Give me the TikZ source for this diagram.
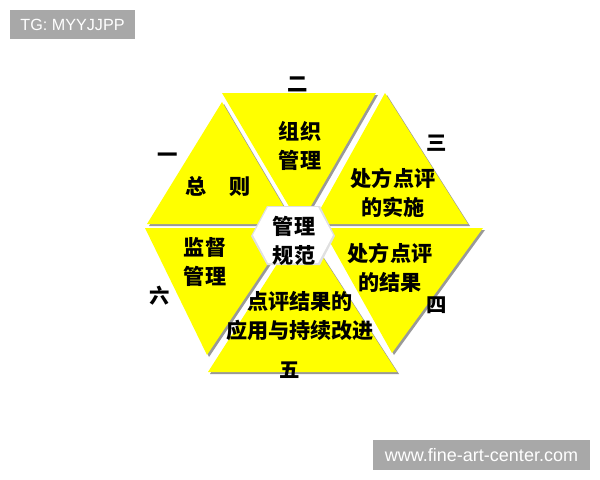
\documentclass[tikz,border=0pt]{standalone}
\usepackage{fontspec}
\usepackage{tikz}
\newfontfamily\cjk{Noto Sans CJK SC}
\newfontfamily\wmfont{Liberation Sans}
\definecolor{hexyellow}{HTML}{FFFF00}
\definecolor{wmgray}{HTML}{A8A8A8}

\begin{document}
\begin{tikzpicture}[x=0.025cm,y=-0.025cm,
    piece/.style={fill=hexyellow},
    shade/.style={fill=black!40},
    lbl/.style={font=\cjk\bfseries\fontsize{15}{21}\selectfont, align=center, inner sep=0pt},
    num/.style={font=\cjk\bfseries\fontsize{14.5}{17}\selectfont, inner sep=0pt},
    wm/.style={text=white, font=\wmfont\fontsize{11.5}{13}\selectfont, inner sep=0pt}]
				\useasboundingbox (0,0) rectangle (600,480);
				
				% shadows
				\fill[shade] (149,226) -- (296,226) -- (224,104) -- cycle;
				\fill[shade] (224,95) -- (378,95) -- (302,227) -- cycle;
				\fill[shade] (314,226) -- (470,226) -- (387,95) -- cycle;
				\fill[shade] (324,230) -- (485,230) -- (394,355) -- cycle;
				\fill[shade] (210,374) -- (399,374) -- (304,227) -- cycle;
				\fill[shade] (147,230) -- (294,230) -- (209,357) -- cycle;
				
				% six pieces
				\fill[piece] (147,224) -- (294,224) -- (222,102) -- cycle;
				\fill[piece] (222,93) -- (376,93) -- (300,225) -- cycle;
				\fill[piece] (312,224) -- (468,224) -- (385,93) -- cycle;
				\fill[piece] (322,228) -- (483,228) -- (392,353) -- cycle;
				\fill[piece] (208,372) -- (397,372) -- (302,225) -- cycle;
				\fill[piece] (145,228) -- (292,228) -- (207,355) -- cycle;
				
				% centre
				\fill[black!12] (251,236) -- (267,206) -- (320,206) -- (335,236) -- (320,265) -- (267,265) -- cycle;
				\fill[white] (253,235) -- (268,207) -- (318,207) -- (333,235) -- (318,263) -- (268,263) -- cycle;
				\node[lbl] (hub) at (294,241) {管理\\规范};
				
				\node[lbl] (zz) at (300,146) {组织\\管理};
				\node[lbl] (zc) at (218,186) {总\hspace{1.1em}则};
				\node[lbl] (ss) at (393,193) {处方点评\\的实施};
				\node[lbl] (jg) at (390,268) {处方点评\\的结果};
				\node[lbl] (yy) at (300,316) {点评结果的\\应用与持续改进};
				\node[lbl] (jd) at (205,262) {监督\\管理};
				
				\node[num] (n1) at (168,158) {一};
				\node[num] (n2) at (298,84) {二};
				\node[num] (n3) at (437,143) {三};
				\node[num] (n4) at (437,305) {四};
				\node[num] (n5) at (290,370) {五};
				\node[num] (n6) at (160,296) {六};
				
				% marks
				\fill[wmgray] (10,10) rectangle (135,39);
				\node[wm] (tg) at (72.5,24.5) {TG: MYYJJPP};
				\fill[wmgray] (373,440) rectangle (590,470);
				\node[wm, font=\wmfont\fontsize{12.8}{14}\selectfont] (site) at (481.5,455) {www.fine-art-center.com};
			\end{tikzpicture}
\end{document}
